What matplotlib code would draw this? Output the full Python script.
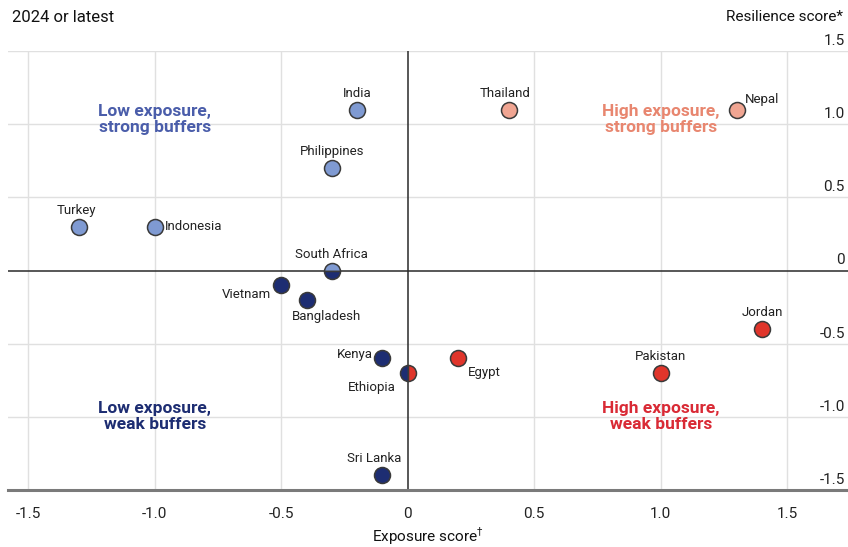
import matplotlib
matplotlib.use("Agg")
import matplotlib.pyplot as plt
from matplotlib import font_manager
import matplotlib.transforms as mtransforms

names = [f.name for f in font_manager.fontManager.ttflist]
base = "Liberation Sans Narrow" if "Liberation Sans Narrow" in names else "Roboto"
plt.rcParams["font.family"] = [base, "DejaVu Sans"]

# Data: exposure (x) and resilience (y) scores
countries = ["India", "Thailand", "Nepal", "Philippines", "Turkey", "Indonesia",
             "South Africa", "Vietnam", "Bangladesh", "Kenya", "Ethiopia",
             "Egypt", "Pakistan", "Jordan", "Sri Lanka"]
exposure = [-0.20, 0.40, 1.30, -0.30, -1.30, -1.00,
            -0.30, -0.50, -0.40, -0.10, 0.00,
            0.20, 1.00, 1.40, -0.10]
resilience = [1.10, 1.10, 1.10, 0.70, 0.30, 0.30,
              0.00, -0.10, -0.20, -0.60, -0.70,
              -0.60, -0.70, -0.40, -1.40]

x_ticks = [-1.5, -1.0, -0.5, 0, 0.5, 1.0, 1.5]
x_tick_labels = ["-1.5", "-1.0", "-0.5", "0", "0.5", "1.0", "1.5"]
y_ticks = [1.5, 1.0, 0.5, 0, -0.5, -1.0, -1.5]
y_tick_labels = ["1.5", "1.0", "0.5", "0", "-0.5", "-1.0", "-1.5"]

quadrant_text = ["Low exposure,\nstrong buffers", "High exposure,\nstrong buffers",
                 "Low exposure,\nweak buffers", "High exposure,\nweak buffers"]

C_LS = "#7f9ad2"   # low exposure, strong buffers
C_HS = "#f0a592"   # high exposure, strong buffers
C_LW = "#1d2d72"   # low exposure, weak buffers
C_HW = "#e0352b"   # high exposure, weak buffers
TXT_LS = "#4a5daa"
TXT_HS = "#e8866f"
TXT_LW = "#1d2d72"
TXT_HW = "#d92a35"

# label placement: (dx px, dy px, ha, va)
label_pos = {
    "India": (0, 10, "center", "bottom"),
    "Thailand": (-4, 10, "center", "bottom"),
    "Nepal": (8, 4, "left", "bottom"),
    "Philippines": (0, 10, "center", "bottom"),
    "Turkey": (-2, 10, "center", "bottom"),
    "Indonesia": (10, 0, "left", "center"),
    "South Africa": (0, 10, "center", "bottom"),
    "Vietnam": (-10, -9, "right", "center"),
    "Bangladesh": (20, -10, "center", "top"),
    "Kenya": (-10, 4, "right", "center"),
    "Ethiopia": (-36, -8, "center", "top"),
    "Egypt": (10, -8, "left", "top"),
    "Pakistan": (0, 10, "center", "bottom"),
    "Jordan": (0, 10, "center", "bottom"),
    "Sri Lanka": (-8, 10, "center", "bottom"),
}

fig = plt.figure(figsize=(8.48, 5.47), dpi=100)
W, H = 848, 547
ax = fig.add_axes([8 / W, (H - 490) / H, (848 - 8) / W, (490 - 51) / H])
ax.set_xlim(-1.58, 1.74)
ax.set_ylim(-1.5, 1.5)
for s in ax.spines.values():
    s.set_visible(False)

# grid
for xv in x_ticks:
    if xv != 0:
        ax.axvline(xv, color="#e0e0e0", lw=1, zorder=0)
for yv in y_ticks:
    if yv not in (0, -1.5):
        ax.axhline(yv, color="#e0e0e0", lw=1, zorder=0)
ax.axhline(0, color="#2a2a2a", lw=1.1, zorder=1)
ax.axvline(0, color="#2a2a2a", lw=1.1, zorder=1)
ax.axhline(-1.5, color="#7a7a7a", lw=2.2, zorder=1, clip_on=False)

ax.set_xticks(x_ticks)
ax.set_xticklabels(x_tick_labels, fontsize=11, color="#222222")
ax.tick_params(axis="x", length=0, pad=12)
ax.set_yticks([])
ax.set_xlabel("Exposure score$^{\u2020}$", fontsize=11, color="#111111", labelpad=3)

trans = mtransforms.blended_transform_factory(ax.transAxes, ax.transData)
offs = mtransforms.offset_copy(trans, fig=fig, x=-3, y=3, units="dots")
for yv, lab in zip(y_ticks, y_tick_labels):
    ax.text(1.0, yv, lab, transform=offs, ha="right", va="bottom",
            fontsize=11, color="#222222")


def colour(x, y):
    if y > 0:
        return C_LS if x < 0 else C_HS
    return C_LW if x < 0 else C_HW


for name, x, y in zip(countries, exposure, resilience):
    kw = dict(marker="o", markersize=11.5, markeredgecolor="#3a3a3a",
              markeredgewidth=1.1, linestyle="none", zorder=3)
    if y == 0:
        ax.plot([x], [y], fillstyle="top", markerfacecolor=C_LS,
                markerfacecoloralt=C_LW, **kw)
    elif x == 0:
        ax.plot([x], [y], fillstyle="left", markerfacecolor=C_LW,
                markerfacecoloralt=C_HW, **kw)
    else:
        ax.plot([x], [y], markerfacecolor=colour(x, y), **kw)
    dx, dy, ha, va = label_pos[name]
    ax.annotate(name, (x, y), xytext=(dx, dy), textcoords="offset pixels",
                ha=ha, va=va, fontsize=9.5, color="#222222", zorder=4)

q_style = dict(ha="center", va="center", fontsize=12.5, fontweight="bold",
               linespacing=1.1)
ax.text(-1.0, 1.03, quadrant_text[0], color=TXT_LS, **q_style)
ax.text(1.0, 1.03, quadrant_text[1], color=TXT_HS, **q_style)
ax.text(-1.0, -1.0, quadrant_text[2], color=TXT_LW, **q_style)
ax.text(1.0, -1.0, quadrant_text[3], color=TXT_HW, **q_style)

fig.text(12 / W, 1 - 17 / H, "2024 or latest", ha="left", va="center",
         fontsize=12, color="#111111")
fig.text(843 / W, 1 - 17 / H, "Resilience score*", ha="right", va="center",
         fontsize=11, color="#111111")

fig.savefig("out.png", dpi=100, facecolor="white")
